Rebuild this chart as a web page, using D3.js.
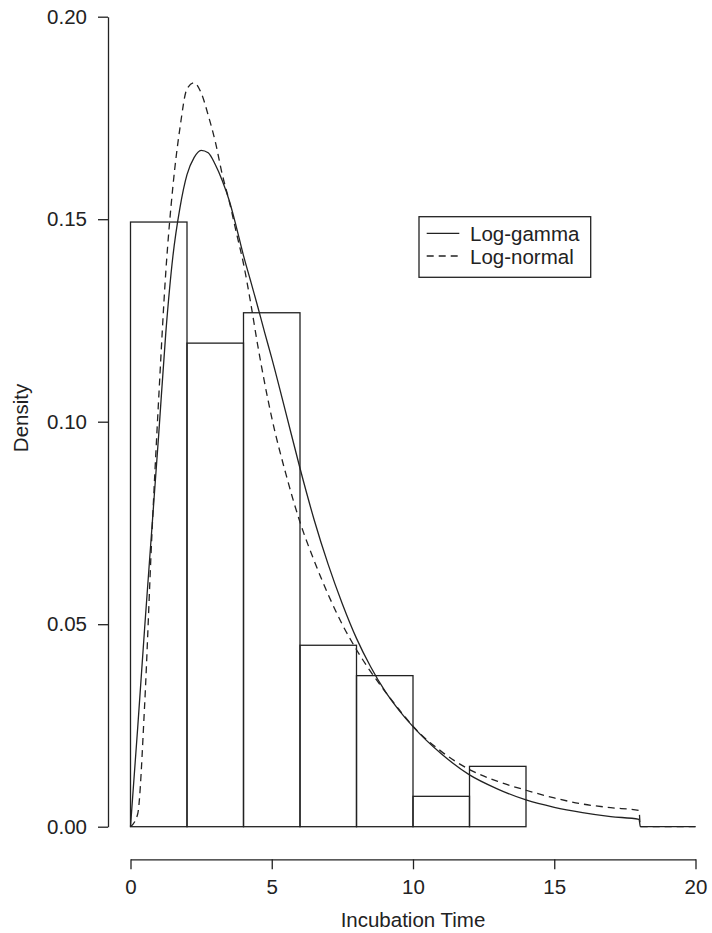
<!DOCTYPE html>
<html>
<head>
<meta charset="utf-8">
<script src="https://cdn.jsdelivr.net/npm/d3@7"></script>
<style>
  body { margin: 0; background: #fff; }
  svg text { font-family: "Liberation Sans", Arial, Helvetica, sans-serif; fill: #222; }
</style>
</head>
<body>
<svg id="chart" width="712" height="933"></svg>
<script>
// histogram: bin edges and densities
const binEdges = [0, 2, 4, 6, 8, 10, 12, 14]
const binDensity = [0.1493, 0.1194, 0.1269, 0.0448, 0.0373, 0.0075, 0.0149]

// fitted curves
const gridX = [0, 0.25, 0.5, 0.75, 1, 1.25, 1.5, 1.75, 2, 2.25, 2.5, 2.75, 3, 3.25, 3.5, 3.75, 4,
  4.25, 4.5, 4.75, 5, 5.5, 6, 6.5, 7, 7.5, 8, 8.5, 9, 9.5, 10, 11, 12, 13, 14, 15, 16, 17, 18, 18.05, 20]
const logGamma = [0, 0.024, 0.049, 0.073, 0.097, 0.122, 0.1408, 0.1528, 0.161, 0.1652, 0.167, 0.1664, 0.1635,
  0.1595, 0.1545, 0.148, 0.141, 0.1348, 0.1285, 0.122, 0.1157, 0.1022, 0.0885, 0.0758, 0.0647, 0.0550,
  0.0465, 0.0395, 0.0336, 0.0288, 0.0247, 0.0180, 0.0128, 0.0093, 0.0066, 0.0048, 0.0035, 0.0025, 0.0018, 0, 0]
const logNormal = [0, 0.003, 0.030, 0.071, 0.106, 0.137, 0.158, 0.1725, 0.1822, 0.1837, 0.1812, 0.1757, 0.1692,
  0.161, 0.1543, 0.1466, 0.139, 0.1295, 0.119, 0.1095, 0.101, 0.0871, 0.0752, 0.0657, 0.0573, 0.0499,
  0.0437, 0.0383, 0.0335, 0.029, 0.0248, 0.0186, 0.0141, 0.0112, 0.009, 0.0071, 0.0056, 0.0047, 0.004, 0, 0]

const xTicks = [0, 5, 10, 15, 20]
const yTicks = [0, 0.05, 0.10, 0.15, 0.20]
const legendLabels = ["Log-gamma", "Log-normal"]

const ink = "#222"
const fontSize = "20.5px"
const dashes = "7,5"

const svg = d3.select("#chart")

const x = d3.scaleLinear().domain([0, 20]).range([130.5, 695.5])
const y = d3.scaleLinear().domain([0, 0.2]).range([826.7, 16.7])

// bars
svg.append("g")
  .selectAll("rect")
  .data(binDensity)
  .join("rect")
  .attr("x", (d, i) => x(binEdges[i]))
  .attr("width", (d, i) => x(binEdges[i + 1]) - x(binEdges[i]))
  .attr("y", d => y(d))
  .attr("height", d => y(0) - y(d))
  .attr("fill", "none")
  .attr("stroke", ink)
  .attr("stroke-width", 1.3)

// curves
const line = d3.line()
  .x(d => x(d[0]))
  .y(d => y(d[1]))
  .curve(d3.curveMonotoneX)

svg.append("path")
  .datum(gridX.map((v, i) => [v, logGamma[i]]))
  .attr("d", line)
  .attr("fill", "none")
  .attr("stroke", ink)
  .attr("stroke-width", 1.3)

svg.append("path")
  .datum(gridX.map((v, i) => [v, logNormal[i]]))
  .attr("d", line)
  .attr("fill", "none")
  .attr("stroke", ink)
  .attr("stroke-width", 1.3)
  .attr("stroke-dasharray", dashes)

// axes, R style (detached)
const xAxis = svg.append("g")
  .attr("transform", "translate(0,859.3)")
  .call(d3.axisBottom(x).tickValues(xTicks).tickSize(10).tickSizeOuter(0).tickPadding(10.6))
const yAxis = svg.append("g")
  .attr("transform", "translate(108,0)")
  .call(d3.axisLeft(y).tickValues(yTicks).tickFormat(d3.format(".2f")).tickSize(10).tickSizeOuter(0).tickPadding(11))

for (const g of [xAxis, yAxis]) {
  g.selectAll("path, line").attr("stroke", ink).attr("stroke-width", 1.3)
  g.selectAll("text").style("font-size", fontSize).attr("fill", ink)
    .style("font-family", '"Liberation Sans", Arial, sans-serif')
}

// titles
svg.append("text")
  .attr("x", 413)
  .attr("y", 927)
  .attr("text-anchor", "middle")
  .style("font-size", fontSize)
  .text("Incubation Time")

svg.append("text")
  .attr("transform", "translate(28,418) rotate(-90)")
  .attr("text-anchor", "middle")
  .style("font-size", fontSize)
  .text("Density")

// legend
const legend = svg.append("g").attr("transform", "translate(419,216.7)")
legend.append("rect")
  .attr("width", 171.7)
  .attr("height", 60.6)
  .attr("fill", "#fff")
  .attr("stroke", ink)
  .attr("stroke-width", 1.3)

legend.selectAll("line")
  .data(legendLabels)
  .join("line")
  .attr("x1", 7.7)
  .attr("x2", 40.3)
  .attr("y1", (d, i) => 16.6 + i * 22.7)
  .attr("y2", (d, i) => 16.6 + i * 22.7)
  .attr("stroke", ink)
  .attr("stroke-width", 1.3)
  .attr("stroke-dasharray", (d, i) => i == 1 ? dashes : null)

legend.selectAll("text")
  .data(legendLabels)
  .join("text")
  .attr("x", 51)
  .attr("y", (d, i) => 24.8 + i * 22.2)
  .style("font-size", fontSize)
  .text(d => d)
</script>
</body>
</html>
